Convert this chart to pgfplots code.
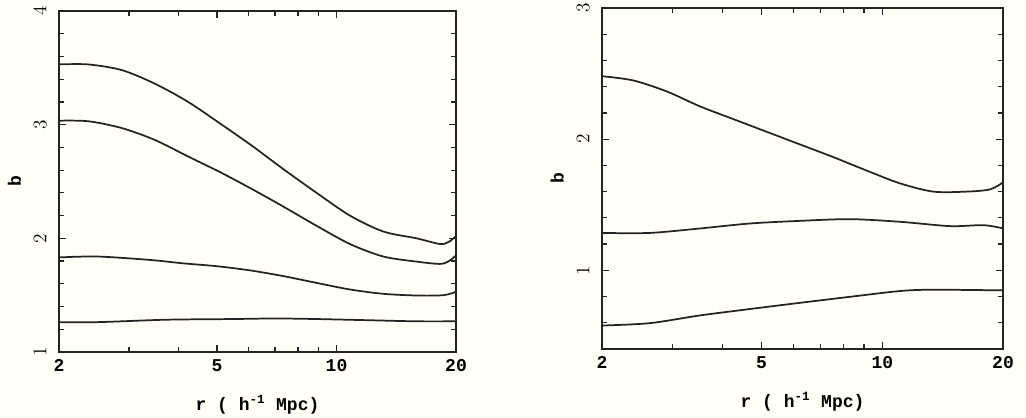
\documentclass[border=0pt]{standalone}
\usepackage{fontspec}
\setmainfont{Liberation Mono}
\usepackage{pgfplots}
\pgfplotsset{compat=1.18}

\definecolor{paper}{RGB}{255,255,247}
\definecolor{ink}{RGB}{35,35,35}

\pgfplotsset{
  bpanel/.style={
    scale only axis,
    xmin=2, xmax=20,
    xtick={2,5,10,20}, xticklabels={2,5,10,20},
    minor xtick={3,4,6,7,8,9},
    tick align=inside,
    major tick length=5.5pt, minor tick length=3.5pt,
    axis line style={ink, line width=1.1pt},
    xtick style={ink, line width=0.9pt},
    ytick style={ink, line width=0.9pt},
    tick label style={font=\bfseries\fontsize{13.5}{15}\selectfont},
    xticklabel style={yshift=-2pt},
    yticklabel style={xshift=-6pt, rotate=90, anchor=south},
    xlabel={r ( h\textsuperscript{-1} Mpc)},
    ylabel={b},
    every axis x label/.style={at={(axis description cs:0.5,-0.156)}, anchor=center,
      font=\bfseries\fontsize{13.5}{15}\selectfont},
    every axis y label/.style={at={(axis description cs:-0.112,0.5)}, anchor=center,
      rotate=90, font=\bfseries\fontsize{13.5}{15}\selectfont},
    cycle list={{ink},{ink},{ink},{ink}},
    every axis plot/.append style={line width=1.3pt, smooth, no markers},
  }
}

\begin{document}
\begin{tikzpicture}
\fill[paper] (0,0) rectangle (769.5pt,-313.5pt);
\useasboundingbox (0,0) rectangle (769.5pt,-313.5pt);

% left panel
\begin{semilogxaxis}[bpanel,
    at={(44.25pt,-8.25pt)}, anchor=north west,
    width=297.75pt, height=255.75pt,
    ymin=1, ymax=4,
    ytick={1,2,3,4},
    minor ytick={1.2,1.4,1.6,1.8,2.2,2.4,2.6,2.8,3.2,3.4,3.6,3.8},
]
\addplot coordinates {(2,3.53)(2.37,3.53)(2.88,3.48)(3.49,3.36)(4.23,3.20)(5.14,3.00)
  (6.15,2.81)(7.34,2.61)(8.91,2.40)(10.81,2.20)(13.12,2.06)(15.92,2.00)(18.23,1.95)
  (19.2,1.97)(20,2.02)};
\addplot coordinates {(2,3.035)(2.37,3.03)(2.88,2.97)(3.49,2.865)(4.23,2.72)(5.14,2.575)
  (6.15,2.43)(7.34,2.28)(8.91,2.11)(10.81,1.95)(13.12,1.84)(15.92,1.795)(18.23,1.775)
  (19.2,1.80)(20,1.85)};
\addplot coordinates {(2,1.832)(2.5,1.84)(3.39,1.81)(4.11,1.78)(4.99,1.755)(6.06,1.718)
  (7.34,1.668)(8.91,1.608)(10.81,1.55)(13.12,1.512)(15.92,1.497)(18.6,1.50)(20,1.53)};
\addplot coordinates {(2,1.263)(2.52,1.263)(3.72,1.284)(5.48,1.29)(7.0,1.295)(8.91,1.29)
  (11.9,1.28)(15.9,1.27)(20,1.27)};
\end{semilogxaxis}

% right panel
\begin{semilogxaxis}[bpanel,
    at={(451.5pt,-6pt)}, anchor=north west,
    width=300.75pt, height=255.75pt,
    ymin=0.4, ymax=3,
    ytick={1,2,3},
    minor ytick={0.6,0.8,1.2,1.4,1.6,1.8,2.2,2.4,2.6,2.8},
]
\addplot coordinates {(2,2.48)(2.39,2.448)(2.90,2.364)(3.51,2.25)(4.25,2.153)(5.15,2.056)
  (6.23,1.96)(7.55,1.863)(9.15,1.76)(11.07,1.663)(13.4,1.60)(16.24,1.60)(18.56,1.617)(20,1.67)};
\addplot coordinates {(2,1.285)(2.63,1.285)(3.51,1.319)(4.68,1.357)(6.23,1.377)(8.31,1.39)
  (11.07,1.37)(14.75,1.337)(17.86,1.344)(20,1.32)};
\addplot coordinates {(2,0.579)(2.63,0.597)(3.51,0.656)(4.68,0.705)(6.23,0.752)(8.31,0.798)
  (11.07,0.842)(13.4,0.852)(20,0.847)};
\end{semilogxaxis}
\end{tikzpicture}
\end{document}
